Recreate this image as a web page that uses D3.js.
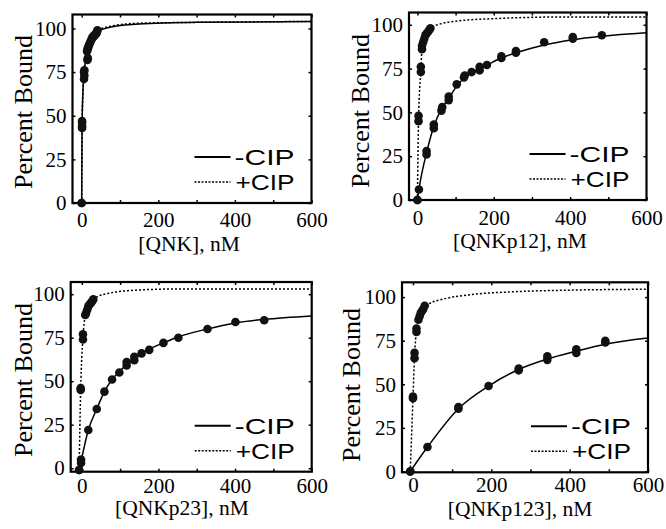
<!DOCTYPE html>
<html>
<head>
<meta charset="utf-8">
<script src="https://cdn.jsdelivr.net/npm/d3@7"></script>
<style>
  body { margin: 0; background: #fff; }
  svg { display: block; }
</style>
</head>
<body>
<svg id="chart" width="666" height="529"></svg>
<script>
// values: [nM, percent bound]
var qnkMinusPts = [[0,0],[1,43],[1,47],[6,71],[6,75],[15,82],[14,87],[17,89],[20,91],[24,93],[28,95],[32,96],[36,97],[40,98]];
var qnkPlusPts = [[0,0],[1,44],[1,46],[7,73],[7,76],[16,83],[15,88],[18,90],[22,92],[26,94],[30,95],[34,96],[38,97],[41,99]];
var qnkMinusFit = [[0,0],[1,44],[3,62],[7,76],[14,86],[22,92],[40,98],[80,101],[150,102.5],[300,103.5],[600,104]];
var qnkPlusFit = [[0,0],[1,45],[3,63],[7,77],[14,87],[22,93],[40,98.5],[80,101.5],[150,103],[300,103.5],[600,104]];

var p12MinusPts = [[0,0],[4,6],[24,26],[24,28],[43,41],[43,43],[63,51],[65,53],[82,57],[82,59],[103,66],[122,70],[124,71],[142,73],[163,74],[163,76],[182,77],[220,81],[220,82],[258,84],[258,85],[332,90],[407,92],[407,93],[483,94]];
var p12PlusPts = [[0,0],[3,45],[3,48],[9,73],[9,76],[12,86],[12,88],[15,90],[18,92],[21,94],[24,95],[28,96],[31,97],[34,98]];
var p12MinusFit = [[0,0],[4,6],[24,27],[43,42],[63,52],[82,58],[103,65],[122,69.5],[142,72.5],[163,75],[182,77],[220,81],[258,84],[332,88.5],[407,91.5],[483,93.5],[600,95.5]];
var p12PlusFit = [[0,0],[3,46],[9,74],[12,86],[20,93],[35,98],[60,100.5],[100,102],[200,103.5],[400,104.5],[600,104.5]];

var p23MinusPts = [[-7,-1],[-2,3],[-2,5],[17,22],[39,34],[59,44],[79,51],[98,55],[117,59],[117,61],[137,62],[137,64],[156,66],[176,68],[213,72],[252,75],[328,80],[401,84],[476,85]];
var p23PlusPts = [[-7,-1],[-3,45],[-3,46],[3,74],[3,77],[9,88],[11,89],[14,91],[17,93],[20,94],[24,95],[27,96],[30,97]];
var p23MinusFit = [[-7,-1],[-2,4],[17,22],[39,34],[59,44],[79,51],[98,55.5],[117,59.5],[137,63],[156,66],[176,68.5],[213,72],[252,75.5],[328,80],[401,83.5],[476,85.5],[600,87.5]];
var p23PlusFit = [[-7,-1],[-3,45],[3,75],[9,88],[15,92],[25,95],[40,98.5],[70,100.5],[120,102],[250,103],[600,103]];

var p123MinusPts = [[-7,0],[37,14],[116,36],[116,37],[193,49],[270,58],[270,59],[343,64],[343,66],[417,68],[417,70],[491,74],[491,75]];
var p123PlusPts = [[-7,0],[0,42],[0,43],[4,65],[4,68],[9,80],[9,82],[14,87],[17,89],[20,91],[23,92],[26,93],[30,95]];
var p123MinusFit = [[-7,0],[37,14],[116,36],[193,49],[270,58.5],[343,64.5],[417,69],[491,73],[600,76.5]];
var p123PlusFit = [[-7,0],[0,42],[4,66],[9,81],[15,88],[25,93],[40,96],[80,99],[150,101.5],[250,103],[400,104],[600,104.5]];

var xLabels = ['[QNK], nM', '[QNKp12], nM', '[QNKp23], nM', '[QNKp123], nM'];
var xTicks = [0, 100, 200, 300, 400, 500, 600];
var yTicks = [0, 25, 50, 75, 100];
var legendLabels = ['-CIP', '+CIP'];

var panels = [
  {l: 72.5, t: 14.5, r: 311.5, b: 203, xd: [-24, 600], yd: [0, 108], pad: 9, xlx: 189, xly: 251, ylx: 23, yly: 112,
   minus: qnkMinusPts, plus: qnkPlusPts, minusFit: qnkMinusFit, plusFit: qnkPlusFit, label: xLabels[0]},
  {l: 409, t: 12.5, r: 646.5, b: 200, xd: [-22, 600], yd: [0, 107], pad: 10, xlx: 520, xly: 248, ylx: 360, yly: 111,
   minus: p12MinusPts, plus: p12PlusPts, minusFit: p12MinusFit, plusFit: p12PlusFit, label: xLabels[1]},
  {l: 70.7, t: 282, r: 311.7, b: 471.7, xd: [-29, 600], yd: [-2, 107], pad: 6, xlx: 182, xly: 515, ylx: 23, yly: 380,
   minus: p23MinusPts, plus: p23PlusPts, minusFit: p23MinusFit, plusFit: p23PlusFit, label: xLabels[2]},
  {l: 402, t: 282.3, r: 648, b: 472.3, xd: [-28, 600], yd: [-0.5, 108.5], pad: 5, xlx: 520, xly: 516, ylx: 351, yly: 385,
   minus: p123MinusPts, plus: p123PlusPts, minusFit: p123MinusFit, plusFit: p123PlusFit, label: xLabels[3]}
];

var svg = d3.select('#chart');
var serif = '"Liberation Serif", "Times New Roman", serif';
var sans = '"Liberation Sans", Arial, sans-serif';

panels.forEach(function(p) {
  var x = d3.scaleLinear().domain(p.xd).range([p.l, p.r]);
  var y = d3.scaleLinear().domain(p.yd).range([p.b, p.t]);
  var g = svg.append('g');

  // inward ticks on all four sides
  var fmtX = function(d) { return d % 200 === 0 ? d : ''; };
  var bottom = g.append('g').attr('transform', 'translate(0,' + p.b + ')')
    .call(d3.axisBottom(x).tickValues(xTicks).tickSize(-3).tickPadding(p.pad).tickFormat(fmtX));
  g.append('g').attr('transform', 'translate(' + p.l + ',0)')
    .call(d3.axisLeft(y).tickValues(yTicks).tickSize(-3).tickPadding(6));
  g.append('g').attr('transform', 'translate(0,' + p.t + ')')
    .call(d3.axisTop(x).tickValues(xTicks).tickSize(-3).tickFormat(''));
  g.append('g').attr('transform', 'translate(' + p.r + ',0)')
    .call(d3.axisRight(y).tickValues(yTicks).tickSize(-3).tickFormat(''));
  g.selectAll('.domain').remove();
  g.selectAll('.tick line').attr('stroke', '#000').attr('stroke-width', 1.5);
  g.selectAll('.tick text').attr('fill', '#000').style('font-family', serif).style('font-size', '21px');
  bottom.selectAll('.tick text').attr('dy', '0.71em');

  // frame
  g.append('rect')
    .attr('x', p.l).attr('y', p.t)
    .attr('width', p.r - p.l).attr('height', p.b - p.t)
    .attr('fill', 'none').attr('stroke', '#000').attr('stroke-width', 2.2);

  var line = d3.line()
    .x(function(d) { return x(d[0]); })
    .y(function(d) { return y(d[1]); })
    .curve(d3.curveMonotoneX);

  g.append('path').datum(p.plusFit)
    .attr('d', line).attr('fill', 'none')
    .attr('stroke', '#000').attr('stroke-width', 1.5).attr('stroke-dasharray', '2,2');
  g.append('path').datum(p.minusFit)
    .attr('d', line).attr('fill', 'none')
    .attr('stroke', '#000').attr('stroke-width', 1.5);

  g.append('g').selectAll('circle')
    .data(p.minus.concat(p.plus))
    .join('circle')
    .attr('cx', function(d) { return x(d[0]); })
    .attr('cy', function(d) { return y(d[1]); })
    .attr('r', 4.3)
    .attr('fill', '#111');

  // legend
  var lg = g.append('g').attr('transform', 'translate(' + p.r + ',' + p.b + ')');
  [-46, -21].forEach(function(dy, i) {
    lg.append('line')
      .attr('x1', -117).attr('x2', -81).attr('y1', dy).attr('y2', dy)
      .attr('stroke', '#000').attr('stroke-width', i === 0 ? 2 : 1.5)
      .attr('stroke-dasharray', i === 0 ? null : '2,1.5');
    lg.append('text')
      .attr('x', -17).attr('y', dy + 8)
      .attr('text-anchor', 'end')
      .attr('textLength', i === 0 ? 60 : 59)
      .attr('lengthAdjust', 'spacingAndGlyphs')
      .style('font-family', sans).style('font-size', '22px')
      .text(legendLabels[i]);
  });

  g.append('text')
    .attr('x', p.xlx).attr('y', p.xly)
    .attr('text-anchor', 'middle')
    .style('font-family', serif).style('font-size', '21.5px')
    .text(p.label);

  g.append('text')
    .attr('transform', 'translate(' + p.ylx + ',' + p.yly + ') rotate(-90)')
    .attr('text-anchor', 'middle')
    .attr('dy', '0.35em')
    .style('font-family', serif).style('font-size', '26px')
    .text('Percent Bound');
});
</script>
</body>
</html>
